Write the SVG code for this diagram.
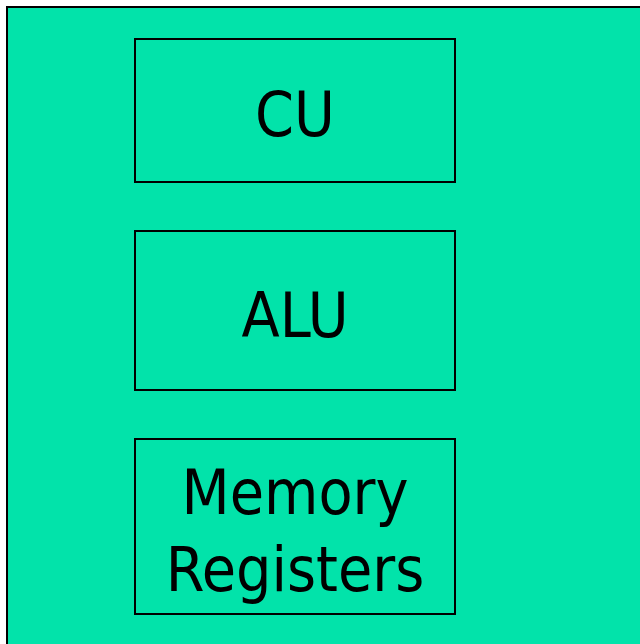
<svg xmlns="http://www.w3.org/2000/svg" width="640" height="644" viewBox="0 0 640 644">
  <style>
    .box { fill: none; stroke: #000; stroke-width: 2; }
    .lbl { font-family: "DejaVu Sans Condensed", "DejaVu Sans", sans-serif; font-stretch: condensed; font-size: 62px; fill: #000; text-anchor: middle; }
  </style>
  <rect width="640" height="644" fill="#ffffff"/>
  <!-- CPU body, running off the right and bottom edges -->
  <g id="cpu">
    <rect x="7" y="7" width="640" height="650" fill="#02E3AA" stroke="#000" stroke-width="2"/>
  </g>
  <g id="cu">
    <rect class="box" x="135" y="39" width="320" height="143"/>
    <text class="lbl" x="295" y="136">CU</text>
  </g>
  <g id="alu">
    <rect class="box" x="135" y="231" width="320" height="159"/>
    <text class="lbl" x="295" y="337">ALU</text>
  </g>
  <g id="registers">
    <rect class="box" x="135" y="439" width="320" height="175"/>
    <text class="lbl" x="295" y="514">Memory</text>
    <text class="lbl" x="295" y="591">Registers</text>
  </g>
  <g id="connectors"/>
</svg>
